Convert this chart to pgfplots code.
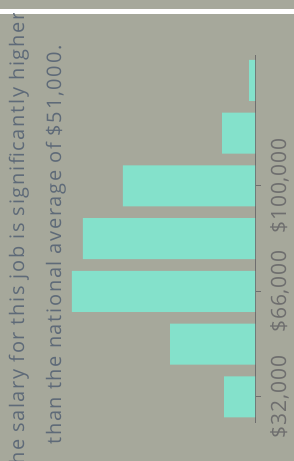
\documentclass[border=0pt]{standalone}
\usepackage{pgfplots}
\pgfplotsset{compat=1.18}
\usepackage{fontspec}
\setmainfont{Open Sans}
\newfontfamily\titlefont[LetterSpace=8.5]{Open Sans}
\newfontfamily\tickfont[LetterSpace=4]{Open Sans}
\definecolor{bgc}{HTML}{A6A89B}
\definecolor{barc}{HTML}{84E1CB}
\definecolor{titlec}{HTML}{5E6A78}
\definecolor{tickc}{HTML}{6E6E6E}
\begin{document}
\begin{tikzpicture}
\fill[bgc] (0,0) rectangle (294bp,461bp);
\path[use as bounding box] (0,0) rectangle (294bp,461bp);
\fill[white] (0,447bp) rectangle (294bp,452bp);
\begin{scope}
\clip (0,0) rectangle (294bp,447bp);
\begin{axis}[
  at={(0bp,38.3bp)}, anchor=south west,
  scale only axis, width=255bp, height=367.7bp,
  xmin=0, xmax=255, x dir=reverse,
  ymin=23700, ymax=142200,
  scaled y ticks=false,
  axis x line=none,
  axis y line*=right,
  axis line style={draw=tickc, line width=1bp},
  ytick={32000,66000,100000},
  yticklabels={{\$32,000},{\$66,000},{\$100,000}},
  yticklabel style={rotate=90, anchor=north, inner sep=0pt, font=\tickfont\fontsize{21bp}{24bp}\selectfont, text=tickc},
  yticklabel shift=9bp,
  tick align=outside,
  major tick length=6bp,
  tick style={draw=tickc, line width=1bp},
  xtick=\empty,
]
\addplot[xbar, bar width=41bp, bar shift=0pt, fill=barc, draw=none]
  coordinates {(31,32000) (85,49000) (183,66000) (172,83000) (132,100000) (33,117000) (6,134000)};
\end{axis}
\node[rotate=90, anchor=base, font=\titlefont\fontsize{20bp}{22bp}\selectfont, text=titlec, inner sep=0pt] at (24bp,216bp) {The salary for this job is significantly higher};
\node[rotate=90, anchor=base, font=\titlefont\fontsize{20bp}{22bp}\selectfont, text=titlec, inner sep=0pt] at (61bp,216bp) {than the national average of \$51,000.};
\end{scope}
\end{tikzpicture}
\end{document}
